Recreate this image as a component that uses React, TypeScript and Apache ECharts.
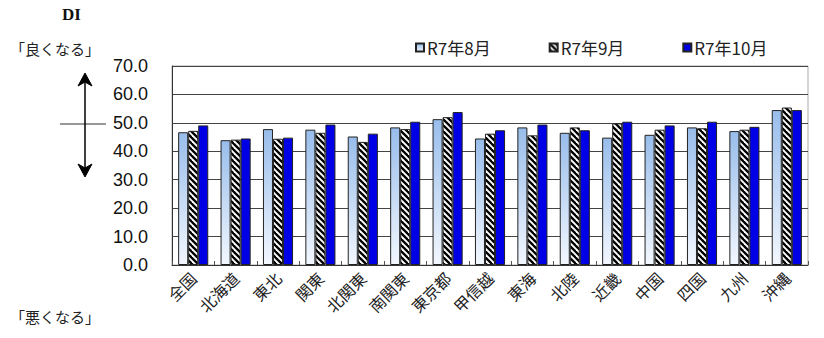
import React, { useEffect, useRef } from "react";
import * as echarts from "echarts";

const categories = ["全国", "北海道", "東北", "関東", "北関東", "南関東", "東京都", "甲信越", "東海", "北陸", "近畿", "中国", "四国", "九州", "沖縄"];
const seriesNames = ["R7年8月", "R7年9月", "R7年10月"];
const aug = [46.7, 43.9, 47.8, 47.6, 45.2, 48.4, 51.3, 44.5, 48.4, 46.5, 44.8, 45.8, 48.4, 47.1, 54.5];
const sep = [47.2, 44.1, 44.4, 46.5, 43.3, 47.8, 52.0, 46.2, 45.6, 48.4, 49.8, 47.6, 48.1, 47.6, 55.4];
const oct = [49.1, 44.5, 44.8, 49.4, 46.2, 50.4, 53.8, 47.4, 49.4, 47.4, 50.4, 49.1, 50.4, 48.6, 54.5];
const yTicks = [0, 10, 20, 30, 40, 50, 60, 70];

function makeHatch() {
  const c = document.createElement("canvas");
  c.width = 6;
  c.height = 6;
  const ctx = c.getContext("2d")!;
  ctx.fillStyle = "#fff";
  ctx.fillRect(0, 0, 6, 6);
  ctx.strokeStyle = "#000";
  ctx.lineWidth = 2.3;
  for (const k of [-6, 0, 6]) {
    ctx.beginPath();
    ctx.moveTo(-2, -2 + k);
    ctx.lineTo(8, 8 + k);
    ctx.stroke();
  }
  return c;
}

export default function App() {
  const ref = useRef<HTMLDivElement>(null);
  useEffect(() => {
    if (!ref.current) return;
    const chart = echarts.init(ref.current, undefined, { renderer: "svg" });
    const jp = "'Noto Sans CJK JP', sans-serif";
    const border = { borderColor: "#222", borderWidth: 1 };
    const hatch = { image: makeHatch(), repeat: "repeat", imageWidth: 6, imageHeight: 6 };
    chart.setOption({
      animation: false,
      backgroundColor: "#fff",
      grid: { left: 172, right: 16, top: 66, bottom: 73, show: true, borderColor: "#aaa", borderWidth: 1, backgroundColor: "transparent" },
      legend: {
        data: seriesNames,
        left: 410,
        top: 34,
        itemGap: 58,
        itemWidth: 8,
        itemHeight: 8,
        icon: "rect",
        textStyle: { fontSize: 17, fontFamily: jp, color: "#222", padding: [0, 0, 0, -2] },
      },
      xAxis: {
        type: "category",
        data: categories,
        axisLine: { lineStyle: { color: "#333" } },
        axisTick: { show: true, inside: true, length: 4, lineStyle: { color: "#555" } },
        axisLabel: { interval: 0, rotate: 45, fontSize: 16, fontFamily: jp, color: "#222", margin: 10 },
      },
      yAxis: {
        type: "value",
        min: 0,
        max: 70,
        interval: 10,
        axisLine: { show: true, lineStyle: { color: "#333" } },
        axisTick: { show: false },
        splitLine: { lineStyle: { color: "#444", width: 1 } },
        axisLabel: {
          fontSize: 18,
          fontFamily: "'Liberation Sans', Arial, sans-serif",
          color: "#111",
          margin: 24,
          formatter: (v: number) => (yTicks.includes(v) ? v.toFixed(1) : ""),
        },
      },
      series: [
        {
          name: seriesNames[0],
          type: "bar",
          data: aug,
          barGap: "0%",
          barCategoryGap: "29%",
          itemStyle: {
            ...border,
            color: new echarts.graphic.LinearGradient(0, 0, 0, 1, [
              { offset: 0, color: "#98bdeb" },
              { offset: 1, color: "#f3f7fe" },
            ]),
          },
        },
        {
          name: seriesNames[1],
          type: "bar",
          data: sep,
          barGap: "0%",
          barCategoryGap: "29%",
          itemStyle: { ...border, color: hatch },
        },
        {
          name: seriesNames[2],
          type: "bar",
          data: oct,
          barGap: "0%",
          barCategoryGap: "29%",
          itemStyle: { ...border, color: "#0000e6" },
        },
      ],
      graphic: [
        { type: "text", left: 62, top: 6, style: { text: "DI", fontSize: 17, fontWeight: "bold", fontFamily: "'Liberation Serif', serif", fill: "#111" } },
        { type: "text", left: 10, top: 41, style: { text: "「良くなる」", fontSize: 15, fontFamily: jp, fill: "#222" } },
        { type: "text", left: 10, top: 309, style: { text: "「悪くなる」", fontSize: 15, fontFamily: jp, fill: "#222" } },
        { type: "line", shape: { x1: 60, y1: 124, x2: 106, y2: 124 }, style: { stroke: "#333", lineWidth: 1 } },
        { type: "line", shape: { x1: 85, y1: 78, x2: 85, y2: 172 }, style: { stroke: "#000", lineWidth: 1.5 } },
        { type: "polygon", shape: { points: [[85, 73], [92, 86], [85, 82], [78, 86]] }, style: { fill: "#000", stroke: "#000", lineWidth: 1 } },
        { type: "polygon", shape: { points: [[85, 177], [92, 164], [85, 168], [78, 164]] }, style: { fill: "#000", stroke: "#000", lineWidth: 1 } },
      ],
    });
    return () => chart.dispose();
  }, []);
  return <div ref={ref} style={{ width: 824, height: 338, position: "absolute", left: 0, top: 0 }} />;
}
